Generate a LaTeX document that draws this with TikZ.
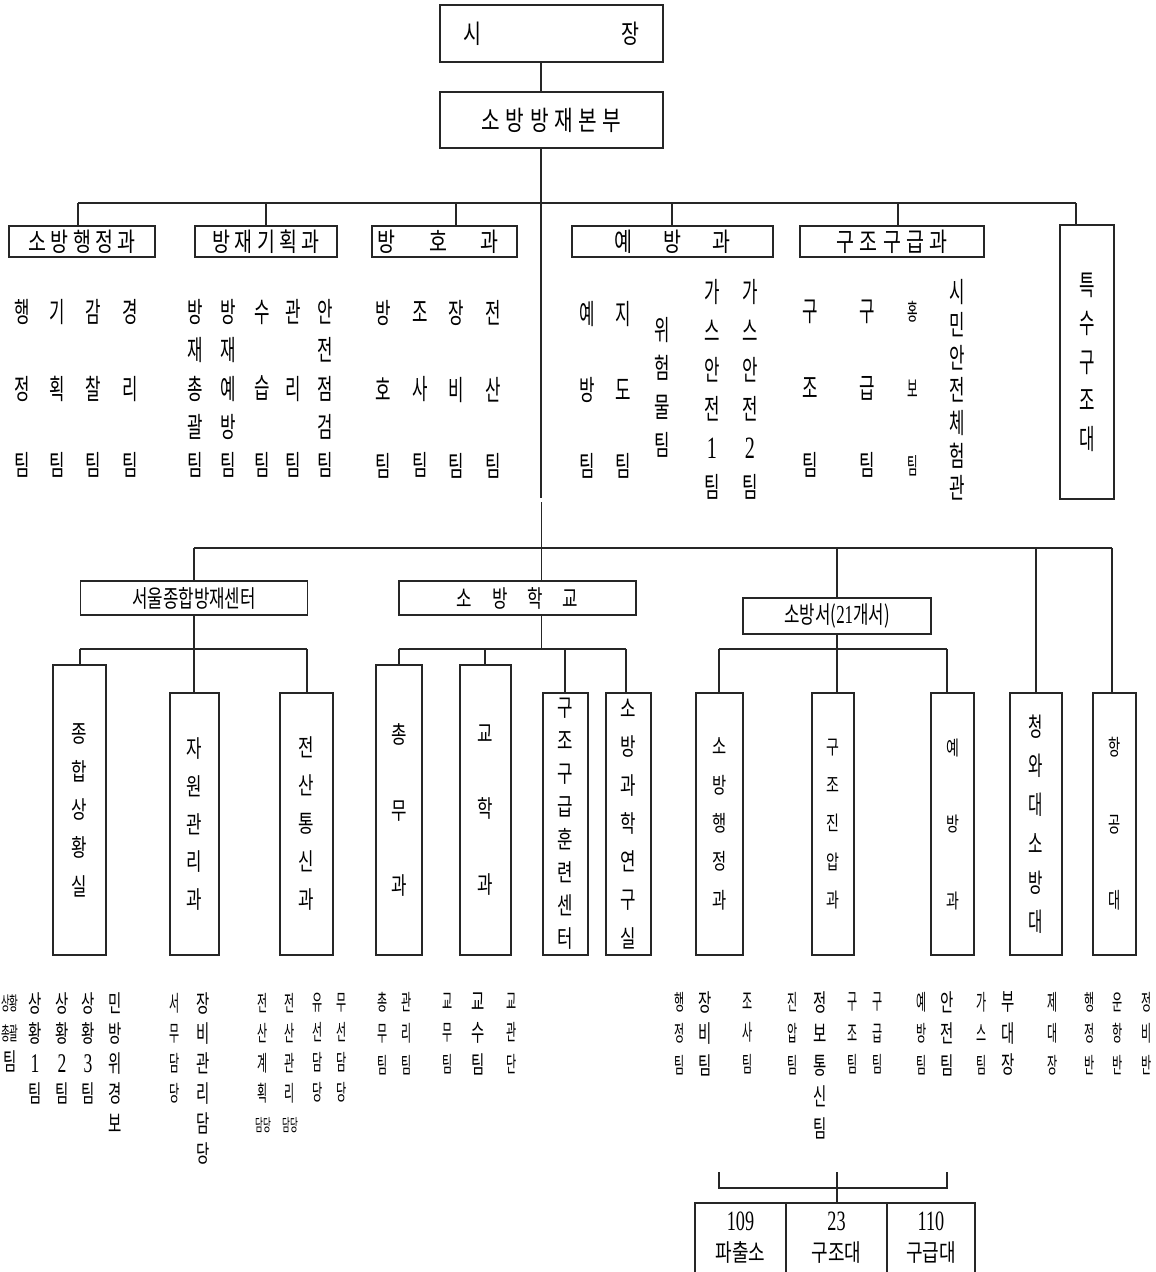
\documentclass[tikz,border=0pt]{standalone}
\usepackage{fontspec}
\setmainfont{Noto Sans CJK KR}
\newfontfamily\kA[FakeStretch=0.5]{Noto Sans CJK KR}
\newfontfamily\kB[FakeStretch=0.6]{Noto Sans CJK KR}
\newfontfamily\kC[FakeStretch=0.7]{Noto Sans CJK KR}
\newfontfamily\kD[FakeStretch=0.75]{Noto Sans CJK KR}
\newfontfamily\dig[FakeStretch=0.65]{Liberation Serif}
\newcommand\fs[2]{\fontsize{#1}{#2}\selectfont}
\makeatletter
\newcommand\spc[2]{\def\spc@gap{#1}\spc@go#2\@nil}
\def\spc@go#1#2\@nil{#1\ifx\relax#2\relax\else\kern\spc@gap\spc@go#2\@nil\fi}
\makeatother
\tikzset{
  box/.style={draw=black!85, line width=1.1pt, inner sep=0pt, align=center},
  ln/.style={draw=black!85, line width=1.1pt},
  tc/.style={inner sep=0pt, align=center},
  top/.style={font=\kB\fs{28}{#1}},
  bigc/.style={font=\kB\fs{24}{#1}},
  smc/.style={font=\kA\fs{22}{#1}},
}
\begin{document}
\begin{tikzpicture}[x=1pt,y=-1pt]
\useasboundingbox (0,0) rectangle (1156,1272);

% ---------- top boxes ----------
\node[box, minimum width=223pt, minimum height=57pt, font=\kD\fs{26}{30}] (mayor) at (551.5,33.5) {시\hspace{140.5pt}장};
\node[box, minimum width=223pt, minimum height=56pt, font=\kD\fs{27}{30}] (hq) at (551.5,120) {\spc{5.5pt}{소방방재본부}};

\node[box, minimum width=146pt, minimum height=31pt, font=\kD\fs{26}{28}] (d1) at (82,241.5) {\spc{4.5pt}{소방행정과}};
\node[box, minimum width=142pt, minimum height=31pt, font=\kD\fs{26}{28}] (d2) at (266,241.5) {\spc{4.5pt}{방재기획과}};
\node[box, minimum width=145pt, minimum height=31pt, font=\kD\fs{26}{28}] (d3) at (444.5,241.5) {\spc{33.5pt}{방호과}\kern13pt};
\node[box, minimum width=201pt, minimum height=31pt, font=\kD\fs{26}{28}] (d4) at (672.5,241.5) {\spc{31.5pt}{예방과}};
\node[box, minimum width=184pt, minimum height=31pt, font=\kD\fs{26}{28}] (d5) at (892,241.5) {\spc{5.5pt}{구조구급과}};
\node[box, minimum width=54pt, minimum height=274pt, font=\kB\fs{28}{38.5}] (d6) at (1087,362) {특\\수\\구\\조\\대};

% ---------- top connectors ----------
\coordinate (m1) at (541,62);
\draw[ln] (m1) -- (m1 |- hq.north);
\coordinate (h1) at (541,148);
\coordinate (ga) at (541,498);
\draw[ln] (h1) -- (ga);
\coordinate (t1) at (78,203);
\coordinate (t2) at (266,203);
\coordinate (t3) at (456,203);
\coordinate (t4) at (672,203);
\coordinate (t5) at (898,203);
\coordinate (t6) at (1076,203);
\draw[ln] (t1) -- (t6);
\foreach \i in {1,...,6} \draw[ln] (t\i) -- (t\i |- d\i.north);

% ---------- top team columns ----------
\node[tc, top=76.6] (a1) at (22,388.5) {행\\정\\팀};
\node[tc, top=76.6] (a2) at (57,388.5) {기\\획\\팀};
\node[tc, top=76.6] (a3) at (93,388.5) {감\\찰\\팀};
\node[tc, top=76.6] (a4) at (130,388.5) {경\\리\\팀};

\node[tc, top=38.3] (b1) at (195,388.5) {방\\재\\총\\괄\\팀};
\node[tc, top=38.3] (b2) at (228,388.5) {방\\재\\예\\방\\팀};
\node[tc, top=76.6] (b3) at (262,388.5) {수\\습\\팀};
\node[tc, top=76.6] (b4) at (293,388.5) {관\\리\\팀};
\node[tc, top=38.3] (b5) at (325,388.5) {안\\전\\점\\검\\팀};

\node[tc, top=76.5] (e1) at (383,389.5) {방\\호\\팀};
\node[tc, top=76.5] (e2) at (420,389.5) {조\\사\\팀};
\node[tc, top=76.5] (e3) at (456,389.5) {장\\비\\팀};
\node[tc, top=76.5] (e4) at (493,389.5) {전\\산\\팀};

\node[tc, top=76] (p1) at (587,390) {예\\방\\팀};
\node[tc, top=76] (p2) at (623,390) {지\\도\\팀};
\node[tc, top=38.3] (p3) at (662,387.5) {위\\험\\물\\팀};
\node[tc, top=39] (p4) at (712,389.5) {가\\스\\안\\전\\{\dig\fs{31}{39}1}\\팀};
\node[tc, top=39] (p5) at (750,389.5) {가\\스\\안\\전\\{\dig\fs{31}{39}2}\\팀};

\node[tc, top=77] (r1) at (810,389) {구\\조\\팀};
\node[tc, top=77] (r2) at (867,389) {구\\급\\팀};
\node[tc, font=\kA\fs{23}{77}] (r3) at (913,389) {홍\\보\\팀};
\node[tc, top=32.7] (r4) at (957,390) {시\\민\\안\\전\\체\\험\\관};

% ---------- lower level boxes ----------
\node[box, minimum width=227pt, minimum height=34pt, font=\kC\fs{24}{26}] (seoul) at (194,598) {서울종합방재센터};
\node[box, minimum width=237pt, minimum height=34pt, font=\kC\fs{24}{26}] (school) at (517.5,598) {\spc{20pt}{소방학교}};
\node[box, minimum width=188pt, minimum height=36pt, font=\kC\fs{24}{26}] (fs) at (837,616) {소방서({\dig\fs{26}{26}21}개서)};
\node[box, minimum width=52pt, minimum height=262pt, font=\kB\fs{26}{39}] (bh) at (1036,824) {청\\와\\대\\소\\방\\대};
\node[box, minimum width=43pt, minimum height=262pt, font=\kB\fs{22}{76.5}] (air) at (1114.5,824) {항\\공\\대};

\coordinate (gb) at (541.5,502);
\draw[ln] (gb) -- (gb |- school.north);
\coordinate (u1) at (194,548);
\coordinate (u2) at (837,548);
\coordinate (u3) at (1036,548);
\coordinate (u4) at (1112,548);
\draw[ln] (u1) -- (u4);
\draw[ln] (u1) -- (u1 |- seoul.north);
\draw[ln] (u2) -- (u2 |- fs.north);
\draw[ln] (u3) -- (u3 |- bh.north);
\draw[ln] (u4) -- (u4 |- air.north);

% ---------- Seoul centre ----------
\node[box, minimum width=53pt, minimum height=290pt, font=\kC\fs{24}{38.25}] (s1) at (79.5,810) {종\\합\\상\\황\\실};
\node[box, minimum width=49pt, minimum height=262pt, font=\kC\fs{24}{37.75}] (s2) at (194.5,824) {자\\원\\관\\리\\과};
\node[box, minimum width=53pt, minimum height=262pt, font=\kC\fs{24}{38}] (s3) at (306.5,824) {전\\산\\통\\신\\과};
\coordinate (v0) at (194,649);
\coordinate (v1) at (80,649);
\coordinate (v3) at (307,649);
\draw[ln] (seoul.south) -- (v0);
\draw[ln] (v1) -- (v3);
\draw[ln] (v1) -- (v1 |- s1.north);
\draw[ln] (v0) -- (v0 |- s2.north);
\draw[ln] (v3) -- (v3 |- s3.north);

% ---------- Fire school ----------
\node[box, minimum width=46pt, minimum height=290pt, font=\kC\fs{24}{75.5}] (c1) at (399,810) {총\\무\\과};
\node[box, minimum width=51pt, minimum height=290pt, font=\kC\fs{24}{75.5}] (c2) at (485.5,810) {교\\학\\과};
\node[box, minimum width=45pt, minimum height=262pt, font=\kC\fs{24}{33}] (c3) at (565.5,824) {구\\조\\구\\급\\훈\\련\\센\\터};
\node[box, minimum width=45pt, minimum height=262pt, font=\kC\fs{24}{38.3}] (c4) at (628.5,824) {소\\방\\과\\학\\연\\구\\실};
\coordinate (wj) at (541.5,649);
\coordinate (w1) at (399,649);
\coordinate (w2) at (485,649);
\coordinate (w3) at (565,649);
\coordinate (w4) at (626,649);
\draw[ln] (wj |- school.south) -- (wj);
\draw[ln] (w1) -- (w4);
\foreach \i in {1,...,4} \draw[ln] (w\i) -- (w\i |- c\i.north);

% ---------- Fire stations ----------
\node[box, minimum width=47pt, minimum height=262pt, font=\kC\fs{22}{38.3}] (f1) at (719.5,824) {소\\방\\행\\정\\과};
\node[box, minimum width=42pt, minimum height=262pt, font=\kC\fs{20}{38.3}] (f2) at (833,824) {구\\조\\진\\압\\과};
\node[box, minimum width=43pt, minimum height=262pt, font=\kC\fs{20}{76.5}] (f3) at (952.5,824) {예\\방\\과};
\coordinate (x0) at (837,649);
\coordinate (x1) at (719,649);
\coordinate (x3) at (947,649);
\draw[ln] (fs.south) -- (x0);
\draw[ln] (x1) -- (x3);
\draw[ln] (x1) -- (x1 |- f1.north);
\draw[ln] (x0) -- (x0 |- f2.north);
\draw[ln] (x3) -- (x3 |- f3.north);

% ---------- bottom columns: Seoul ----------
\node[tc, bigc=30] (q1) at (10,1033) {{\kA\fs{19}{30}상황}\\{\kA\fs{19}{30}총괄}\\팀};
\node[tc, bigc=30] (q2) at (35,1048) {상\\황\\{\dig\fs{27}{30}1}\\팀};
\node[tc, bigc=30] (q3) at (62,1048) {상\\황\\{\dig\fs{27}{30}2}\\팀};
\node[tc, bigc=30] (q4) at (88,1048) {상\\황\\{\dig\fs{27}{30}3}\\팀};
\node[tc, bigc=30] (q5) at (115,1063) {민\\방\\위\\경\\보};
\node[tc, smc=30] (q6) at (175,1048) {서\\무\\담\\당};
\node[tc, bigc=30] (q7) at (203,1078) {장\\비\\관\\리\\담\\당};
\node[tc, smc=30] (q8) at (263,1063) {전\\산\\계\\획\\{\kA\fs{17}{30}담당}};
\node[tc, smc=30] (q9) at (290,1063) {전\\산\\관\\리\\{\kA\fs{17}{30}담당}};
\node[tc, smc=30] (q10) at (318,1048) {유\\선\\담\\당};
\node[tc, smc=30] (q11) at (342,1048) {무\\선\\담\\당};

% ---------- bottom columns: school ----------
\node[tc, smc=31.5] (o1) at (383,1033.5) {총\\무\\팀};
\node[tc, smc=31.5] (o2) at (407,1033.5) {관\\리\\팀};
\node[tc, smc=31.5] (o3) at (448,1033.5) {교\\무\\팀};
\node[tc, bigc=31.5] (o4) at (478,1033.5) {교\\수\\팀};
\node[tc, smc=31.5] (o5) at (512,1033.5) {교\\관\\단};

% ---------- bottom columns: stations ----------
\node[tc, smc=31.5] (n1) at (680,1033.5) {행\\정\\팀};
\node[tc, bigc=31.5] (n2) at (705,1033.5) {장\\비\\팀};
\node[tc, smc=31.5] (n3) at (748,1033.5) {조\\사\\팀};
\node[tc, smc=31.5] (n4) at (793,1033.5) {진\\압\\팀};
\node[tc, bigc=31.5] (n5) at (820,1065) {정\\보\\통\\신\\팀};
\node[tc, smc=31.5] (n6) at (853,1033.5) {구\\조\\팀};
\node[tc, smc=31.5] (n7) at (878,1033.5) {구\\급\\팀};
\node[tc, smc=31.5] (n8) at (922,1033.5) {예\\방\\팀};
\node[tc, bigc=31.5] (n9) at (947,1033.5) {안\\전\\팀};
\node[tc, smc=31.5] (n10) at (982,1033.5) {가\\스\\팀};
\node[tc, bigc=31.5] (n11) at (1008,1033.5) {부\\대\\장};
\node[tc, smc=31.5] (n12) at (1053,1033.5) {제\\대\\장};
\node[tc, smc=31.5] (n13) at (1090,1033.5) {행\\정\\반};
\node[tc, smc=31.5] (n14) at (1118,1033.5) {운\\항\\반};
\node[tc, smc=31.5] (n15) at (1147,1033.5) {정\\비\\반};

% ---------- bracket and bottom cells ----------
\coordinate (b1) at (719,1172);
\coordinate (b1l) at (719,1188);
\coordinate (b2l) at (947,1188);
\coordinate (b2) at (947,1172);
\coordinate (bm) at (837,1172);
\coordinate (ktop) at (837,1203);
\draw[ln] (b1) -- (b1l) -- (b2l) -- (b2);
\draw[ln] (bm) -- (ktop);
\draw[ln] (695,1272) -- (695,1203) -- (975,1203) -- (975,1272);
\draw[ln] (786,1203) -- (786,1272);
\draw[ln] (887,1203) -- (887,1272);
\node[tc, font=\kD\fs{24}{31}] (k1) at (740.5,1237.5) {{\dig\fs{28}{31}109}\\파출소};
\node[tc, font=\kD\fs{24}{31}] (k2) at (836.5,1237.5) {{\dig\fs{28}{31}23}\\구조대};
\node[tc, font=\kD\fs{24}{31}] (k3) at (931,1237.5) {{\dig\fs{28}{31}110}\\구급대};
\end{tikzpicture}
\end{document}
